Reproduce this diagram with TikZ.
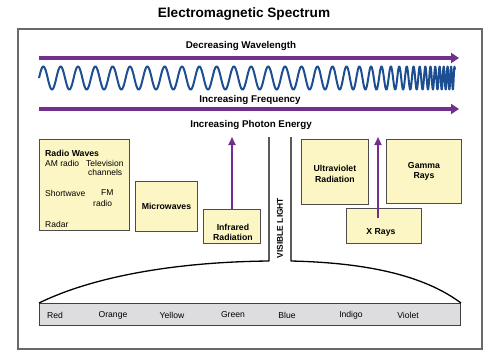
\documentclass[tikz,border=0pt]{standalone}
\usepackage{fontspec}
\setmainfont{Liberation Sans}
\usetikzlibrary{arrows.meta}
\definecolor{waveblue}{RGB}{28,78,145}
\definecolor{arrowpurple}{RGB}{112,48,140}
\definecolor{bandfill}{RGB}{252,246,196}
\definecolor{barfill}{RGB}{221,221,223}
\definecolor{framegray}{RGB}{105,105,105}

\tikzset{
  bandbox/.style={draw=black!70, line width=0.9pt, fill=bandfill, anchor=north west, inner sep=0pt},
  bandlabel/.style={font=\fontsize{8.7}{10.5}\selectfont\bfseries, align=center},
  smalltext/.style={font=\fontsize{8.5}{9}\selectfont, anchor=west, inner sep=0pt},
  headtext/.style={font=\fontsize{9.8}{11}\selectfont\bfseries},
  colourtext/.style={font=\fontsize{8.6}{10}\selectfont},
  bigarrow/.style={arrowpurple, line width=3.6pt, -{Triangle[length=8pt,width=10pt]}},
  uparrow/.style={arrowpurple, line width=1.8pt, -{Triangle[length=8pt,width=7pt]}}
}

\begin{document}
\begin{tikzpicture}[x=1pt, y=-1pt]
  \useasboundingbox (0,0) rectangle (500,362);

  % Title and frame
  \node[font=\fontsize{13.6}{15}\selectfont\bfseries] (title) at (244,14) {Electromagnetic Spectrum};
  \draw[framegray, line width=1.4pt] (18,29) rectangle (482,349);

  % Direction arrows and wave
  \node[headtext] (wltext) at (241,46) {Decreasing Wavelength};
  \coordinate (wlstart) at (39,58);
  \coordinate (wlend) at (459,58);
  \draw[bigarrow] (wlstart) -- (wlend);

  \draw[waveblue, line width=2pt, line join=round]
    plot[domain=0:1, samples=1600] ({39+416*\x},{78-11.5*sin(360*(24*\x+10.4*\x^10))});

  \node[headtext] (fqtext) at (250,100) {Increasing Frequency};
  \coordinate (fqstart) at (39,109);
  \coordinate (fqend) at (459,109);
  \draw[bigarrow] (fqstart) -- (fqend);

  \node[headtext] (entext) at (251,125) {Increasing Photon Energy};

  % Radio waves
  \node[bandbox, minimum width=90pt, minimum height=91pt] (radio) at (39,139) {};
  \node[smalltext, font=\fontsize{8.7}{9}\selectfont\bfseries] (radiohead) at (45,153) {Radio Waves};
  \node[smalltext] (am) at (45,163) {AM radio};
  \node[smalltext] (tv) at (86,163) {Television};
  \node[smalltext] (tvch) at (88,172) {channels};
  \node[smalltext] (sw) at (45,193) {Shortwave};
  \node[smalltext] (fm) at (101,193) {FM};
  \node[smalltext] (fmradio) at (93,203) {radio};
  \node[smalltext] (radar) at (45,224) {Radar};

  % Microwaves and infrared
  \node[bandbox, minimum width=62pt, minimum height=50pt] (micro) at (135,181) {};
  \node[bandlabel] at (micro.center) {Microwaves};
  \node[bandbox, minimum width=57pt, minimum height=34pt] (infra) at (203,209) {};
  \node[bandlabel] at ([xshift=1pt,yshift=-6pt]infra.center) {Infrared\\Radiation};
  \coordinate (irtip) at (232,137);
  \draw[uparrow] (infra.north) -- (irtip);

  % Ultraviolet, x rays, gamma rays
  \node[bandbox, minimum width=67pt, minimum height=65pt] (uv) at (301,139) {};
  \node[bandlabel] at ([yshift=-2pt]uv.center) {Ultraviolet\\Radiation};
  \node[bandbox, minimum width=75pt, minimum height=64pt] (gamma) at (386,139) {};
  \node[bandlabel] at (gamma.center) {Gamma\\Rays};
  \node[bandbox, minimum width=75pt, minimum height=35pt] (xray) at (346,208) {};
  \node[bandlabel] at ([xshift=-3pt,yshift=-6pt]xray.center) {X Rays};
  \coordinate (xtail) at (378,218);
  \coordinate (xtip) at (378,137);
  \draw[uparrow] (xtail) -- (xtip);

  % Visible light
  \node[draw=black!75, line width=1pt, fill=barfill, anchor=north west, minimum width=421pt, minimum height=22pt, inner sep=0pt] (visbar) at (39,303) {};
  \coordinate (vltop) at (269,137);
  \coordinate (vrtop) at (291,137);
  \draw[line width=1.3pt, line join=round] (vltop) -- (269,261) .. controls (170,262) and (90,278) .. (visbar.north west);
  \draw[line width=1.3pt, line join=round] (vrtop) -- (291,261) .. controls (380,263) and (430,280) .. (visbar.north east);
  \node[font=\fontsize{8.4}{9}\selectfont\bfseries, rotate=90] (vistext) at (280,228) {VISIBLE LIGHT};

  \node[colourtext] at (55,315) {Red};
  \node[colourtext] at (113,315) {Orange};
  \node[colourtext] at (172,315) {Yellow};
  \node[colourtext] at (233,315) {Green};
  \node[colourtext] at (287,315) {Blue};
  \node[colourtext] at (351,315) {Indigo};
  \node[colourtext] at (408,315) {Violet};
\end{tikzpicture}
\end{document}
